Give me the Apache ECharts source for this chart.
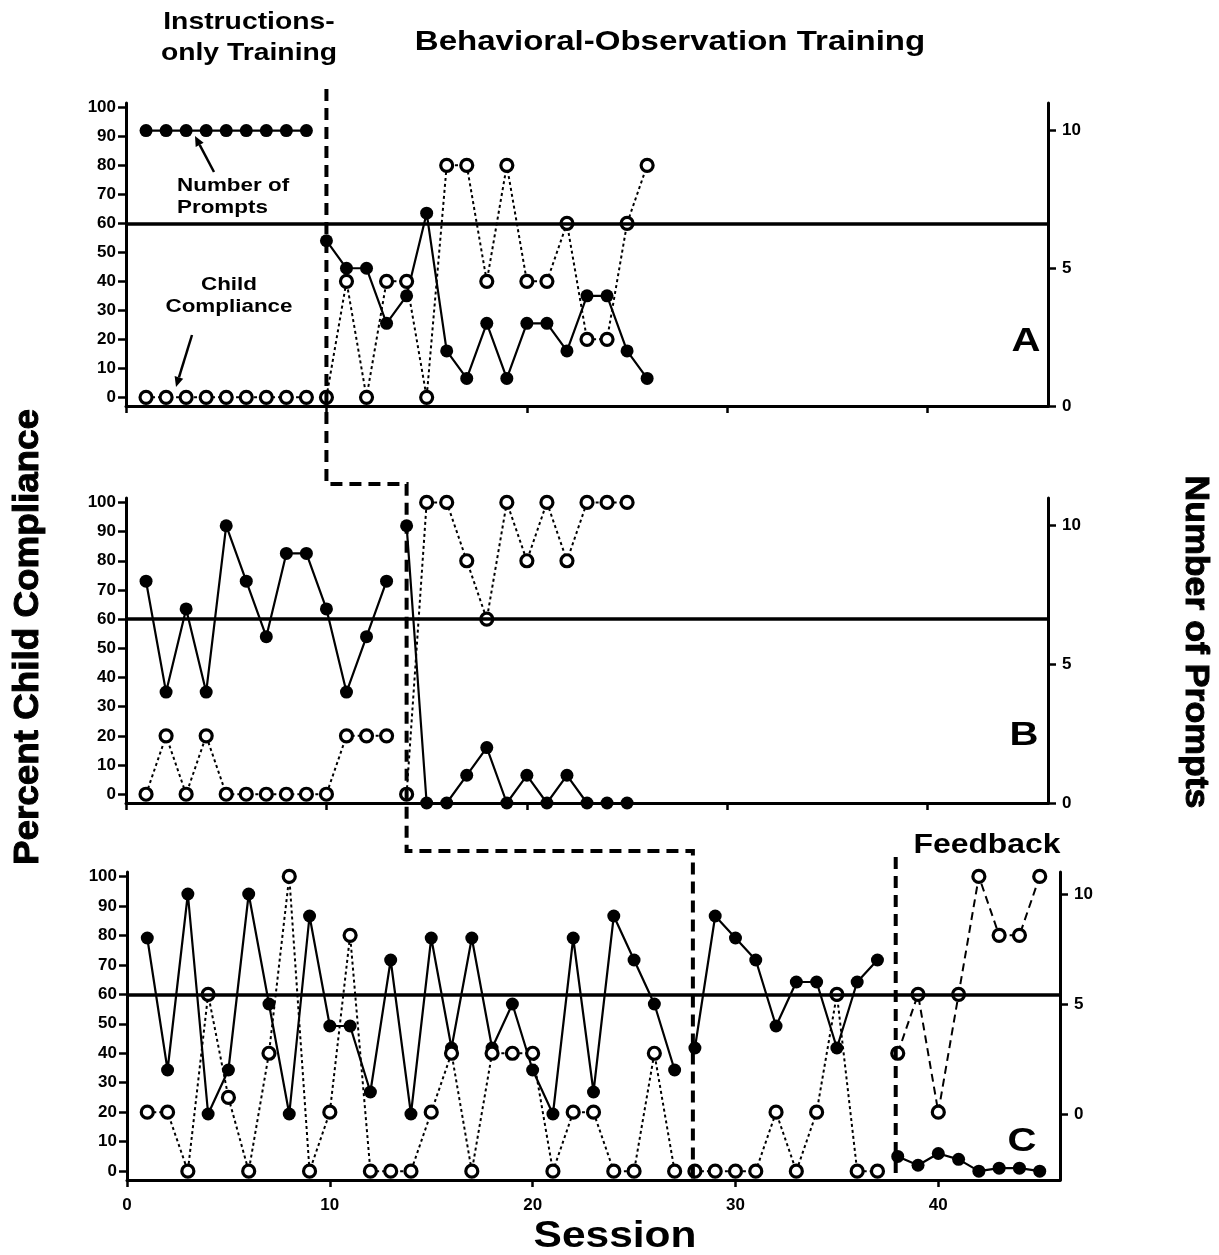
<!DOCTYPE html>
<html>
<head>
<meta charset="utf-8">
<script src="https://cdn.jsdelivr.net/npm/echarts@6/dist/echarts.min.js"></script>
<style>
html,body{margin:0;padding:0;background:#fff;}
#chart{width:1219px;height:1255px;}
</style>
</head>
<body>
<div id="chart"></div>
<script>
// ---------------- DATA ----------------
// Panel A
const aBaseSessions = [1,2,3,4,5,6,7,8,9];
const aBasePrompts = [10,10,10,10,10,10,10,10,10];
const aBaseCompliance = [0,0,0,0,0,0,0,0,0];
const aTrainSessions = [10,11,12,13,14,15,16,17,18,19,20,21,22,23,24,25,26];
const aTrainPrompts = [6,5,5,3,4,7,2,1,3,1,3,3,2,4,4,2,1];
const aTrainCompliance = [0,40,0,40,40,0,80,80,40,80,40,40,60,20,20,60,80];
// Panel B
const bBaseSessions = [1,2,3,4,5,6,7,8,9,10,11,12,13];
const bBasePrompts = [8,4,7,4,10,8,6,9,9,7,4,6,8];
const bBaseCompliance = [0,20,0,20,0,0,0,0,0,0,20,20,20];
const bTrainSessions = [14,15,16,17,18,19,20,21,22,23,24,25];
const bTrainPrompts = [10,0,0,1,2,0,1,0,1,0,0,0];
const bTrainCompliance = [0,100,100,80,60,100,80,100,80,100,100,100];
// Panel C
const cBaseSessions = [1,2,3,4,5,6,7,8,9,10,11,12,13,14,15,16,17,18,19,20,21,22,23,24,25,26,27];
const cBasePrompts = [8,2,10,0,2,10,5,0,9,4,4,1,7,0,8,3,8,3,5,2,0,8,1,9,7,5,2];
const cBaseCompliance = [20,20,0,60,25,0,40,100,0,20,80,0,0,0,20,40,0,40,40,40,0,20,20,0,0,40,0];
const cTrainSessions = [28,29,30,31,32,33,34,35,36,37];
const cTrainPrompts = [3,9,8,7,4,6,6,3,6,7];
const cTrainCompliance = [0,0,0,0,20,0,20,60,0,0];
const cFeedSessions = [38,39,40,41,42,43,44,45];
const cFeedPrompts = [5,2,6,4,0,1,1,0];        // read on the left (percent) axis
const cFeedCompliance = [40,60,20,60,100,80,80,100];

// Axis ticks
const percentTicks = [0,10,20,30,40,50,60,70,80,90,100];
const promptTicks = [0,5,10];
const sessionTicks = [0,10,20,30,40];
const criterionLine = 60;
// Phase-change sessions (where dashed lines are drawn)
const phaseA = 10, phaseB = 14, phaseC = 27.9, phaseFeedback = 37.9;

// ---------------- CHART ----------------
const FONT = '"Liberation Sans", Arial, Helvetica, sans-serif';
const chart = echarts.init(document.getElementById('chart'), null, {renderer: 'canvas'});

const grids = [
  {left: 126, top: 103, width: 922, height: 303},
  {left: 126, top: 498, width: 922, height: 305},
  {left: 127, top: 872, width: 933, height: 308}
];
const rightRanges = [[0, 11], [0, 11], [-3, 11]];

const axisLineStyle = {color: '#000', width: 3};
const tickStyle = {color: '#000', width: 2.5};
const labelStyle = {color: '#000', fontWeight: 'bold', fontSize: 17, fontFamily: FONT};

const xAxes = [], yAxes = [];
grids.forEach((g, i) => {
  xAxes.push({
    type: 'value', gridIndex: i, min: 0, max: 46,
    axisLine: {show: true, onZero: false, lineStyle: axisLineStyle},
    axisTick: {show: true, length: 7, inside: false, lineStyle: tickStyle, customValues: sessionTicks},
    axisLabel: Object.assign({show: i === 2, margin: 17, customValues: sessionTicks}, labelStyle),
    splitLine: {show: false}
  });
  yAxes.push({
    type: 'value', gridIndex: i, position: 'left', min: -3, max: 101.5,
    axisLine: {show: true, onZero: false, lineStyle: axisLineStyle},
    axisTick: {show: true, length: 8, lineStyle: tickStyle, customValues: percentTicks},
    axisLabel: Object.assign({margin: 10, customValues: percentTicks}, labelStyle),
    splitLine: {show: false}
  });
  yAxes.push({
    type: 'value', gridIndex: i, position: 'right', min: rightRanges[i][0], max: rightRanges[i][1],
    axisLine: {show: true, onZero: false, lineStyle: axisLineStyle},
    axisTick: {show: true, length: 8, lineStyle: tickStyle, customValues: promptTicks},
    axisLabel: Object.assign({margin: 14, customValues: promptTicks}, labelStyle),
    splitLine: {show: false}
  });
});

function pairs(xs, ys) { return xs.map((x, k) => [x, ys[k]]); }

function filledSeries(g, xs, ys, yIdx) {
  return {
    type: 'line', xAxisIndex: g, yAxisIndex: yIdx, data: pairs(xs, ys),
    symbol: 'circle', symbolSize: 13, showAllSymbol: true,
    itemStyle: {color: '#000', borderColor: '#000', borderWidth: 0},
    lineStyle: {color: '#000', width: 2.2, type: 'solid'},
    z: 3, animation: false, silent: true
  };
}
function openSeries(g, xs, ys, dash, withCriterion) {
  const s = {
    type: 'line', xAxisIndex: g, yAxisIndex: g * 2, data: pairs(xs, ys),
    symbol: 'circle', symbolSize: 12, showAllSymbol: true,
    itemStyle: {color: '#fff', borderColor: '#000', borderWidth: 3.2},
    lineStyle: {color: '#000', width: 2, type: dash},
    z: 4, animation: false, silent: true
  };
  if (withCriterion) {
    s.markLine = {
      silent: true, symbol: ['none', 'none'], animation: false,
      label: {show: false},
      lineStyle: {color: '#000', width: 3.5, type: 'solid'},
      data: [{yAxis: criterionLine}]
    };
  }
  return s;
}

const dotted = [3, 3];
const dashed = [8, 5];
const series = [
  filledSeries(0, aBaseSessions, aBasePrompts, 1),
  filledSeries(0, aTrainSessions, aTrainPrompts, 1),
  openSeries(0, aBaseSessions, aBaseCompliance, dotted, true),
  openSeries(0, aTrainSessions, aTrainCompliance, dotted, false),

  filledSeries(1, bBaseSessions, bBasePrompts, 3),
  filledSeries(1, bTrainSessions, bTrainPrompts, 3),
  openSeries(1, bBaseSessions, bBaseCompliance, dotted, true),
  openSeries(1, bTrainSessions, bTrainCompliance, dotted, false),

  filledSeries(2, cBaseSessions, cBasePrompts, 5),
  filledSeries(2, cTrainSessions, cTrainPrompts, 5),
  filledSeries(2, cFeedSessions, cFeedPrompts, 4),
  openSeries(2, cBaseSessions, cBaseCompliance, dotted, true),
  openSeries(2, cTrainSessions, cTrainCompliance, dotted, false),
  openSeries(2, cFeedSessions, cFeedCompliance, dashed, false)
];

chart.setOption({
  animation: false,
  backgroundColor: '#fff',
  grid: grids.map(g => Object.assign({containLabel: false, outerBoundsMode: 'none'}, g)),
  xAxis: xAxes,
  yAxis: yAxes,
  series: series
});

// ---------------- ANNOTATIONS ----------------
function px(g, x, y) {
  return chart.convertToPixel({xAxisIndex: g, yAxisIndex: g * 2}, [x, y]);
}
const SX = 1.18;
function txt(text, x, y, size, extra, align) {
  const a = align || 'center';
  return Object.assign({
    type: 'text', x: x, y: y, scaleX: SX, z: 100, silent: true,
    style: {text: text, font: 'bold ' + size + 'px ' + FONT, fill: '#000',
            textAlign: a, textVerticalAlign: 'middle', align: a, verticalAlign: 'middle'}
  }, extra || {});
}
function heavy(t) {
  t.style.stroke = '#000';
  t.style.lineWidth = 0.9;
  return t;
}
function arrow(x1, y1, x2, y2) {
  const ang = Math.atan2(y2 - y1, x2 - x1);
  const L = 10, W = 4.5;
  const bx = x2 - L * Math.cos(ang), by = y2 - L * Math.sin(ang);
  const nx = -Math.sin(ang), ny = Math.cos(ang);
  return [
    {type: 'line', z: 100, silent: true, shape: {x1: x1, y1: y1, x2: bx, y2: by}, style: {stroke: '#000', lineWidth: 2.5}},
    {type: 'polygon', z: 100, silent: true, shape: {points: [[x2, y2], [bx + nx * W, by + ny * W], [bx - nx * W, by - ny * W]]}, style: {fill: '#000'}}
  ];
}

const xA = px(0, phaseA, 0)[0];
const xB = px(1, phaseB, 0)[0];
const xC = px(2, phaseC, 0)[0];
const xF = px(2, phaseFeedback, 0)[0];
const topA = 89;
const yAB = 484;
const yBC = 851;
const bottomC = px(2, 0, -3)[1];

const dashStyle = {stroke: '#000', lineWidth: 4, lineDash: [12, 7], fill: null};

const graphics = [
  {type: 'polyline', z: 90, silent: true,
   shape: {points: [[xA, topA], [xA, yAB], [xB, yAB], [xB, yBC], [xC, yBC], [xC, bottomC]]},
   style: dashStyle},
  {type: 'line', z: 90, silent: true, shape: {x1: xF, y1: 857, x2: xF, y2: bottomC}, style: dashStyle},

  txt('Instructions-', 249, 22, 24),
  txt('only Training', 249, 53, 24),
  txt('Behavioral-Observation Training', 670, 42, 28),
  txt('Feedback', 987, 846, 27),
  txt('Session', 615, 1237, 36),
  heavy(txt('Percent Child Compliance', 28, 637, 32, {rotation: Math.PI / 2, scaleX: 1.15, scaleY: 1.1})),
  heavy(txt('Number of Prompts', 1195, 642, 31, {rotation: -Math.PI / 2, scaleX: 1.15, scaleY: 1.1})),
  txt('A', 1026, 342, 34),
  txt('B', 1024, 736, 34),
  txt('C', 1022, 1142, 34),
  txt('Number of', 177, 186, 19, null, 'left'),
  txt('Prompts', 177, 208, 19, null, 'left'),
  txt('Child', 229, 285, 19),
  txt('Compliance', 229, 307, 19)
].concat(arrow(214, 172, 195, 136)).concat(arrow(192, 335, 176, 387));

chart.setOption({graphic: graphics});
</script>
</body>
</html>
